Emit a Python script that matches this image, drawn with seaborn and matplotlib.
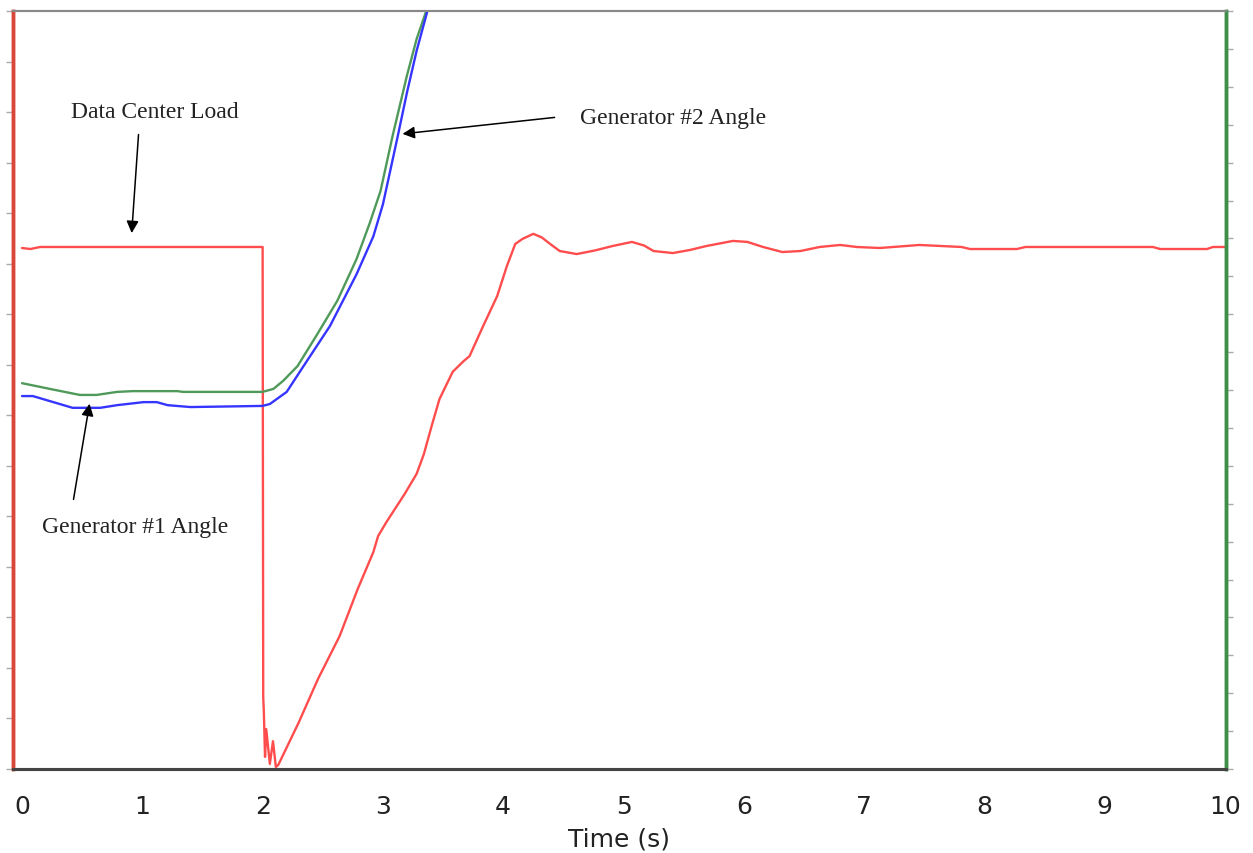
import numpy as np
import pandas as pd
import matplotlib
matplotlib.use("Agg")
import matplotlib.pyplot as plt
import seaborn as sns

sns.set_style("white")
plt.rcParams['font.family'] = ['DejaVu Sans']

# Data center load (left axis, MW-like units)
load_t = [0.00, 0.07, 0.15, 2.00, 2.005, 2.01, 2.02, 2.03, 2.06, 2.086, 2.11, 2.13,
          2.30, 2.46, 2.64, 2.79, 2.92, 2.96, 3.03, 3.18, 3.28, 3.34, 3.41, 3.47, 3.58,
          3.67, 3.72, 3.83, 3.95, 4.03, 4.10, 4.16, 4.25, 4.32, 4.39, 4.47, 4.61, 4.76, 4.91,
          5.07, 5.17, 5.25, 5.41, 5.55, 5.69, 5.91, 6.03, 6.16, 6.32, 6.47, 6.63, 6.80, 6.94,
          7.13, 7.46, 7.81, 7.88, 8.27, 8.34, 9.40, 9.46, 9.85, 9.90, 10.00]
load_val = [103.1, 102.9, 103.3, 103.3, 14.2, 11.4, 2.4, 7.9, 1.0, 5.5, 0.4, 0.8,
            9.2, 17.8, 26.3, 35.6, 42.9, 46.1, 48.9, 54.4, 58.4, 62.3, 68.3, 73.2, 78.6,
            80.7, 81.7, 87.5, 93.6, 99.5, 103.9, 104.9, 105.9, 105.2, 103.9, 102.5, 101.9, 102.6, 103.5,
            104.3, 103.6, 102.5, 102.1, 102.7, 103.5, 104.5, 104.3, 103.3, 102.3, 102.5, 103.3, 103.7, 103.3,
            103.1, 103.7, 103.3, 102.9, 102.9, 103.3, 103.3, 102.9, 102.9, 103.3, 103.3]

# Generator angles (right axis, degrees)
gen2_t = [0.00, 0.23, 0.48, 0.62, 0.79, 0.92, 1.29, 1.34, 2.00, 2.09, 2.17, 2.29,
          2.45, 2.62, 2.78, 2.89, 2.98, 3.08, 3.20, 3.28, 3.36, 3.40]
gen2_val = [101.8, 100.3, 98.7, 98.7, 99.5, 99.7, 99.7, 99.5, 99.5, 100.3, 102.4, 106.3,
            114.5, 123.5, 134.5, 144.0, 152.5, 167.0, 183.0, 192.6, 200.0, 208.0]

gen1_t = [0.00, 0.09, 0.42, 0.65, 0.79, 1.01, 1.12, 1.21, 1.40, 2.00, 2.06, 2.20,
          2.34, 2.56, 2.78, 2.92, 3.00, 3.12, 3.20, 3.28, 3.37, 3.41]
gen1_val = [98.4, 98.4, 95.3, 95.3, 96.0, 96.8, 96.8, 96.0, 95.5, 95.8, 96.3, 99.5,
            106.3, 116.9, 130.5, 140.5, 149.0, 166.5, 178.5, 189.5, 200.0, 208.0]

x_ticks = list(range(0, 11))

fig = plt.figure(figsize=(12.53, 8.54), dpi=100)
ax = fig.add_axes([13 / 1253, 1 - 770 / 854, (1226 - 13) / 1253, (770 - 12) / 854])
ax2 = ax.twinx()

load_df = pd.DataFrame({'t': load_t, 'v': load_val})
g1_df = pd.DataFrame({'t': gen1_t, 'v': gen1_val})
g2_df = pd.DataFrame({'t': gen2_t, 'v': gen2_val})

sns.lineplot(data=load_df, x='t', y='v', ax=ax, color='#ff4d4d', lw=1.7,
             sort=False, estimator=None)
sns.lineplot(data=g2_df, x='t', y='v', ax=ax2, color='#4f9a5a', lw=1.7,
             sort=False, estimator=None)
sns.lineplot(data=g1_df, x='t', y='v', ax=ax2, color='#3535ff', lw=1.7,
             sort=False, estimator=None)

ax.set_xlim(-0.075, 10.008)
ax.set_ylim(0, 150)
ax2.set_ylim(0, 200)
ax.set_xticks(x_ticks)
ax.set_xticklabels([str(v) for v in x_ticks], fontsize=18, color='#222222')
ax.set_yticks(np.arange(0, 151, 10))
ax.set_yticklabels([])
ax2.set_yticks(np.arange(0, 201, 10))
ax2.set_yticklabels([])
ax.set_ylabel('')
ax2.set_ylabel('')
ax.set_xlabel('Time (s)', fontsize=18, color='#222222', labelpad=6)

ax.tick_params(axis='x', direction='out', length=5, width=1, color='#999999', pad=13)
ax.tick_params(axis='y', direction='out', length=5, width=1, color='#aaaaaa')
ax2.tick_params(axis='y', direction='out', length=5, width=1, color='#aaaaaa')

for a in (ax, ax2):
    a.spines['top'].set_color('#888888')
    a.spines['top'].set_linewidth(1.5)
    a.spines['bottom'].set_color('#444444')
    a.spines['bottom'].set_linewidth(2.2)
    a.spines['left'].set_color('#d9473a')
    a.spines['left'].set_linewidth(2.5)
    a.spines['right'].set_color('#3f8f48')
    a.spines['right'].set_linewidth(2.5)

serif = ['Liberation Serif', 'DejaVu Serif']
arrow = dict(arrowstyle='-|>', color='black', lw=1.1, mutation_scale=18)

ax.text(1.10, 130.2, 'Data Center Load', fontsize=17, family=serif,
        ha='center', va='center', color='#222222')
ax.annotate('', xy=(0.91, 105.5), xytext=(0.97, 126.1), arrowprops=arrow)

ax2.text(0.94, 63.9, 'Generator #1 Angle', fontsize=17, family=serif,
         ha='center', va='center', color='#222222')
ax2.annotate('', xy=(0.565, 97.1), xytext=(0.424, 70.4), arrowprops=arrow)

ax2.text(4.64, 172.0, 'Generator #2 Angle', fontsize=17, family=serif,
         ha='left', va='center', color='#222222')
ax2.annotate('', xy=(3.14, 167.5), xytext=(4.45, 172.0), arrowprops=arrow)

fig.savefig('out.png', dpi=100)
